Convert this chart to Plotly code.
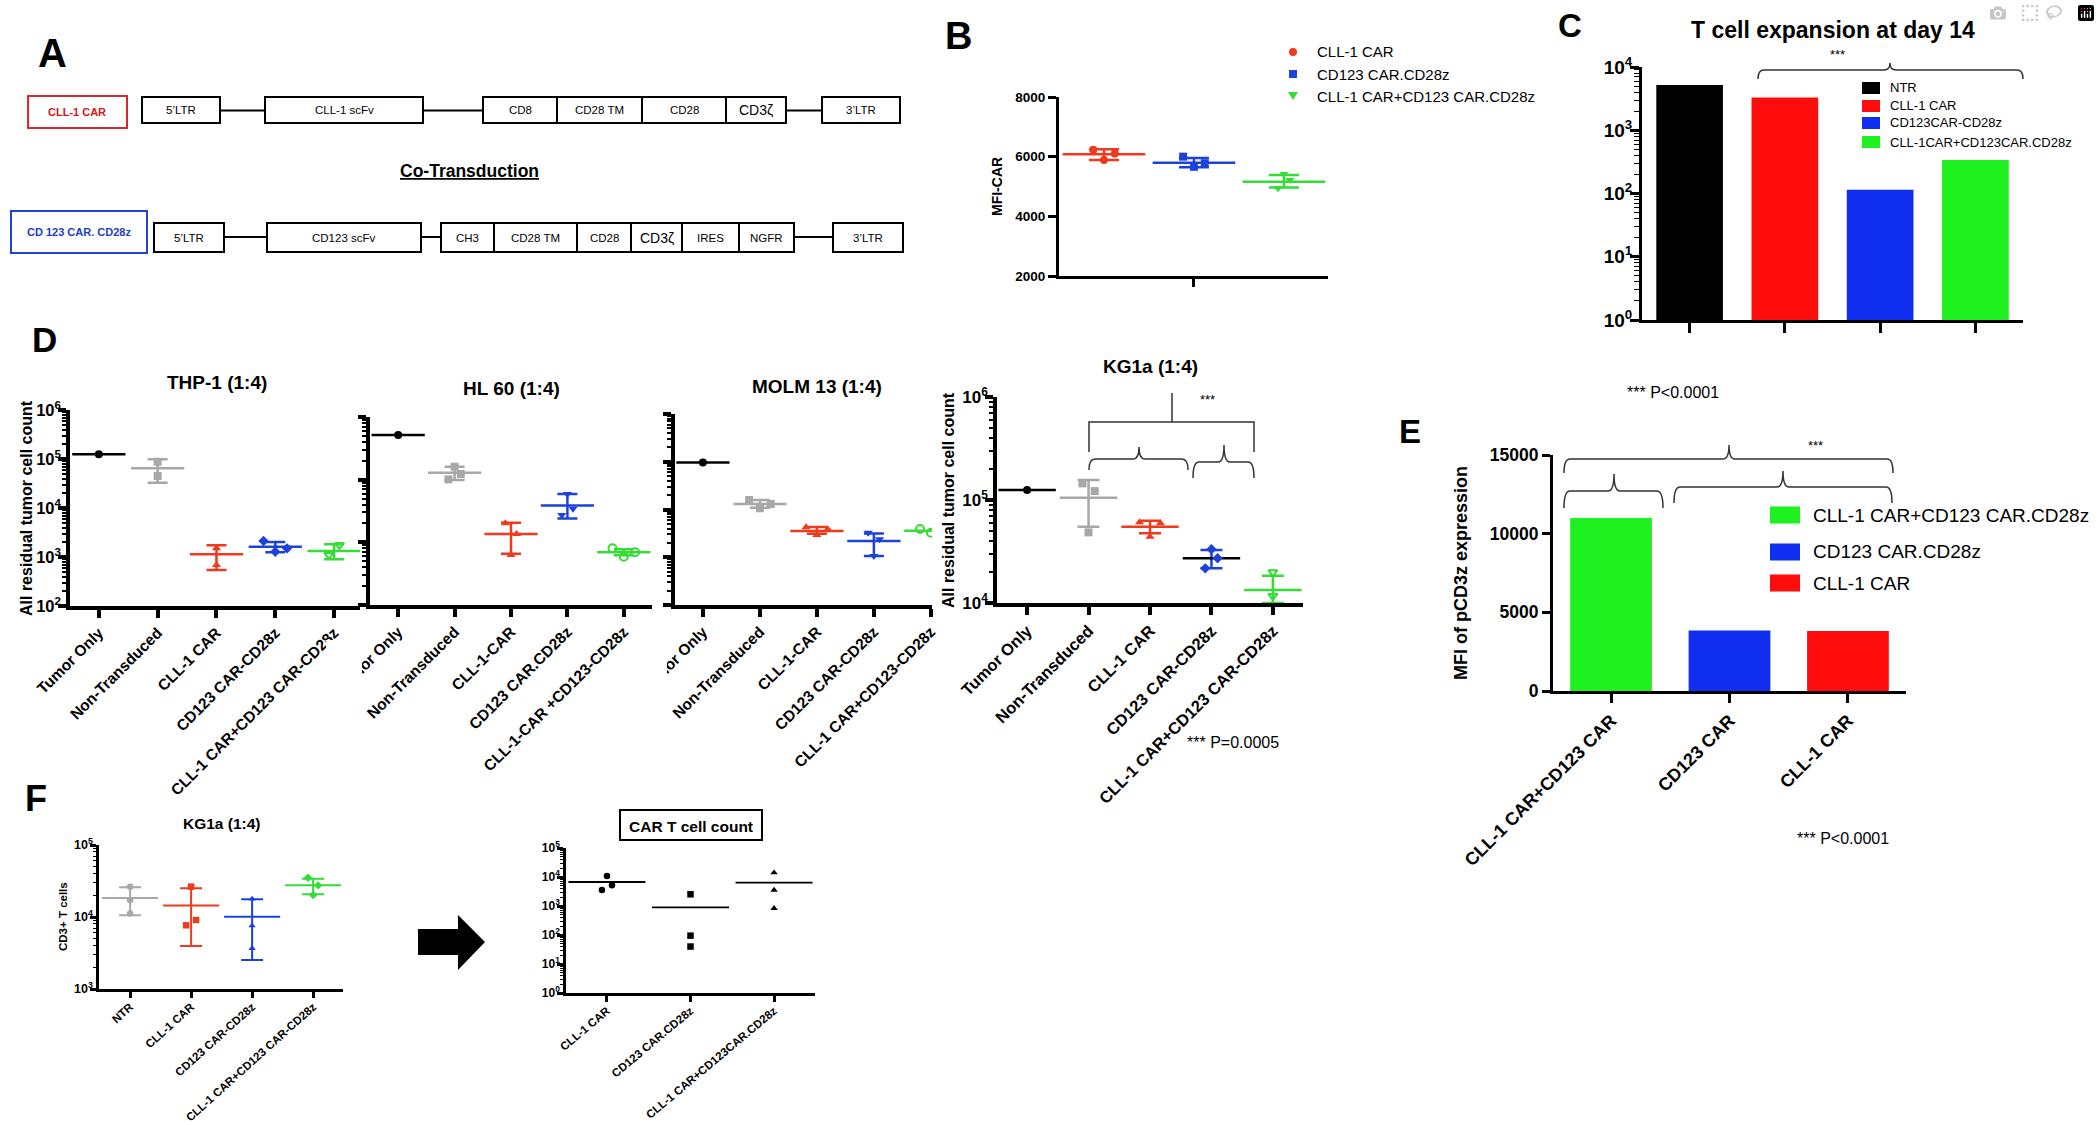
import numpy as np
import plotly.graph_objects as go

W, H = 2100, 1125
FONT = "Liberation Sans, Arial, sans-serif"

RED, BLUE, GREEN, GRAY, BLACK = "#ef3a1d", "#1d42dc", "#36dc36", "#a8a8a8", "#000000"
RED_BAR, BLUE_BAR, GREEN_BAR = "#ff0d0d", "#0f2ef0", "#1ff01f"

# ---------------- data ----------------
# A  construct schematic
a_row1 = ["5’LTR", "CLL-1 scFv", "CD8", "CD28 TM", "CD28", "CD3ζ", "3’LTR"]
a_row2 = ["5’LTR", "CD123 scFv", "CH3", "CD28 TM", "CD28", "CD3ζ", "IRES", "NGFR", "3’LTR"]

# B  MFI-CAR
b_groups = ["CLL-1 CAR", "CD123 CAR.CD28z", "CLL-1 CAR+CD123 CAR.CD28z"]
b_points = [[6230, 5890, 6110], [6000, 5660, 5780], [4940, 5420, 5220]]
b_mean = [6080, 5800, 5160]
b_hi = [6245, 5955, 5385]
b_lo = [5890, 5645, 4970]
b_yticks = [2000, 4000, 6000, 8000]

# C  T cell expansion at day 14
c_groups = ["NTR", "CLL-1 CAR", "CD123CAR-CD28z", "CLL-1CAR+CD123CAR.CD28z"]
c_vals = [5200, 3300, 115, 340]
c_exp = [0, 1, 2, 3, 4]

# D  residual tumor cells
thp1_labels = ["Tumor Only", "Non-Transduced", "CLL-1 CAR", "CD123 CAR-CD28z", "CLL-1 CAR+CD123 CAR-CD28z"]
thp1_points = [[125000], [88000, 45000], [1500, 690], [2120, 1280, 1500], [1100, 1760]]
thp1_mean = [125000, 64500, 1135, 1625, 1325]
thp1_hi = [None, 98600, 1735, 2025, 1815]
thp1_lo = [None, 32800, 545, 1250, 900]
thp1_exp = [2, 3, 4, 5, 6]

hl60_labels = ["Tumor Only", "Non-Transduced", "CLL-1-CAR", "CD123 CAR.CD28z", "CLL-1-CAR +CD123-CD28z"]
hl60_points = [[516000], [101000, 161000, 123000], [20100, 6280, 13600], [27300, 59000, 34400], [8040, 5900, 6930]]
hl60_mean = [516000, 129000, 13600, 38600, 6930]
hl60_hi = [None, 161000, 20600, 59000, 7760]
hl60_lo = [None, 98900, 6600, 24100, 6230]
hl60_exp = [3, 4, 5, 6]

molm_labels = ["Tumor Only", "Non-Transduced", "CLL-1-CAR", "CD123 CAR-CD28z", "CLL-1 CAR+CD123-CD28z"]
molm_points = [[97000], [15800, 10600, 13000], [4240, 2920, 3850], [3270, 1060, 2380], [3890, 3270, None]]
molm_mean = [97000, 13000, 3550, 2190, 3600]
molm_hi = [None, 15800, 4300, 3160, None]
molm_lo = [None, 10900, 3100, 1060, None]
molm_exp = [2, 3, 4, 5, 6]

kg_labels = ["Tumor Only", "Non-Transduced", "CLL-1 CAR", "CD123 CAR-CD28z", "CLL-1 CAR+CD123 CAR-CD28z"]
kg_points = [[125000], [145000, 48500, 122000], [60700, 44000, 59400], [21700, 33200, 27200], [19900, 11700]]
kg_mean = [125000, 105000, 55100, 27200, 13400]
kg_hi = [None, 156000, 63000, 32700, 18400]
kg_lo = [None, 55100, 47500, 21700, 10000]
kg_exp = [4, 5, 6]

# E  pCD3z
e_labels = ["CLL-1 CAR+CD123 CAR", "CD123 CAR", "CLL-1 CAR"]
e_vals = [11000, 3840, 3820]
e_legend = ["CLL-1 CAR+CD123 CAR.CD28z", "CD123 CAR.CD28z", "CLL-1 CAR"]
e_yticks = [0, 5000, 10000, 15000]

# F  CD3+ T cells / CAR T cell count
f_labels = ["NTR", "CLL-1 CAR", "CD123 CAR-CD28z", "CLL-1 CAR+CD123 CAR-CD28z"]
f_points = [[26400, 17200, 11200], [7670, 26400, 9080], [17800, 7570, 3670], [35100, 20200, 27500]]
f_mean = [18400, 14500, 10100, 27500]
f_hi = [25800, 25100, 17700, 34000]
f_lo = [10600, 3950, 2530, 20700]
f_exp = [3, 4, 5]

cart_labels = ["CLL-1 CAR", "CD123 CAR.CD28z", "CLL-1 CAR+CD123CAR.CD28z"]
cart_points = [[3560, 10800, 5170], [2530, 95, 40], [14100, 3560, 830]]
cart_mean = [6730, 900, 6380]
cart_exp = [0, 1, 2, 3, 4, 5]


# ---------------- helpers ----------------
def fx(p):
    return p / W


def fy(p):
    return 1 - p / H


def xdom(a, b):
    return [fx(a), fx(b)]


def ydom(top, bottom):
    return [fy(bottom), fy(top)]


def decades(exps):
    return [10 ** e for e in exps], ["10<sup>%d</sup>" % e for e in exps]


def axis(dom, rng, anchor, vals, text, size, angle=0, log=False, minor=False, lw=3, tlen=8,
         labels=True, standoff=0):
    a = dict(domain=dom, range=rng, anchor=anchor, type="log" if log else "linear",
             showline=True, linecolor="black", linewidth=lw,
             ticks="outside", tickcolor="black", tickwidth=lw, ticklen=tlen,
             tickmode="array", tickvals=vals, ticktext=text, tickangle=angle,
             showticklabels=labels, automargin=False, ticklabelstandoff=standoff,
             tickfont=dict(family=FONT, size=size, color="black", weight="bold"),
             showgrid=False, zeroline=False, fixedrange=True)
    if minor:
        a["minor"] = dict(ticks="outside", ticklen=tlen * 0.55, tickwidth=max(1, lw * 0.45),
                          tickcolor="black", dtick="D1", showgrid=False)
    return a


shapes, annos = [], []


def T(x, y, s, size, bold=False, color="black", angle=0, family=FONT, xa="center", ya="middle"):
    if bold:
        s = "<b>%s</b>" % s
    annos.append(dict(x=fx(x), y=fy(y), xref="paper", yref="paper", text=s, showarrow=False,
                      font=dict(family=family, size=size, color=color), textangle=angle,
                      xanchor=xa, yanchor=ya))


def R(x0, y0, x1, y1, line="black", lw=2, fill="rgba(0,0,0,0)"):
    shapes.append(dict(type="rect", xref="paper", yref="paper", x0=fx(x0), x1=fx(x1),
                       y0=fy(y0), y1=fy(y1), fillcolor=fill, layer="above",
                       line=dict(color=line, width=lw)))


def L(x0, y0, x1, y1, color="black", lw=2):
    shapes.append(dict(type="line", xref="paper", yref="paper", x0=fx(x0), x1=fx(x1),
                       y0=fy(y0), y1=fy(y1), line=dict(color=color, width=lw)))


def PATH(d, color="#333", lw=1.5, fill=None):
    shapes.append(dict(type="path", xref="paper", yref="paper", path=d, layer="above",
                       line=dict(color=color, width=lw), fillcolor=fill))


def pt(x, y):
    return "%.5f,%.5f" % (fx(x), fy(y))


def brace(x0, x1, yl, ye, xp, yt, r=6):
    d = ("M " + pt(x0, ye) + " Q " + pt(x0, yl) + " " + pt(x0 + r, yl) +
         " L " + pt(xp - r, yl) + " Q " + pt(xp, yl) + " " + pt(xp, yt) +
         " Q " + pt(xp, yl) + " " + pt(xp + r, yl) +
         " L " + pt(x1 - r, yl) + " Q " + pt(x1, yl) + " " + pt(x1, ye))
    PATH(d)


fig = go.Figure()


def dots(k, points, means, hi, lo, colors, mcolors, symbols, spreads,
         msize=8, mlen=38, cap=10, lw=2.5, base=0):
    xa = "x" if k == 1 else "x%d" % k
    ya = "y" if k == 1 else "y%d" % k
    for i, pts in enumerate(points):
        if hi is not None and hi[i] is not None:
            err = dict(type="data", symmetric=False, array=[hi[i] - means[i]],
                       arrayminus=[means[i] - lo[i]], color=colors[i], thickness=lw, width=cap)
        else:
            err = dict(visible=False)
        fig.add_trace(go.Scatter(
            x=[base + i], y=[means[i]], mode="markers", error_y=err,
            marker=dict(symbol="line-ew", size=mlen, color=mcolors[i],
                        line=dict(color=mcolors[i], width=lw)),
            xaxis=xa, yaxis=ya, showlegend=False, hoverinfo="skip"))
        n = len(pts)
        offs = np.linspace(-spreads[i], spreads[i], n) if n > 1 else np.zeros(1)
        opn = symbols[i].endswith("open")
        fig.add_trace(go.Scatter(
            x=[base + i + o for o in offs], y=pts, mode="markers",
            marker=dict(symbol=symbols[i], size=msize, color=colors[i],
                        line=dict(color=colors[i], width=2 if opn else 0)),
            xaxis=xa, yaxis=ya, showlegend=False, hoverinfo="skip"))


layout = {}

# ---------------- A ----------------
T(52, 53, "A", 40, bold=True)
row1_pos = [(142, 220), (265, 423), (483, 557), (557, 642), (642, 726), (726, 786), (822, 900)]
for lab, (x0, x1) in zip(a_row1, row1_pos):
    R(x0, 97, x1, 123)
    T((x0 + x1) / 2, 110.5, lab, 14 if "ζ" in lab else 11.5)
for x0, x1 in [(220, 265), (423, 483), (786, 822)]:
    L(x0, 110.5, x1, 110.5)
R(28, 96, 127, 128, line="#d42a2a", lw=2)
T(77, 112, "CLL-1 CAR", 11, bold=True, color="#d01818")

row2_pos = [(154, 224), (267, 421), (441, 494), (494, 577), (577, 631), (631, 682), (682, 739),
            (739, 794), (833, 903)]
for lab, (x0, x1) in zip(a_row2, row2_pos):
    R(x0, 223, x1, 252)
    T((x0 + x1) / 2, 237.5, lab, 14 if "ζ" in lab else 11.5)
for x0, x1 in [(224, 267), (421, 441), (794, 833)]:
    L(x0, 237, x1, 237)
R(11, 211, 147, 253, line="#2444d4", lw=2)
T(79, 232, "CD 123 CAR. CD28z", 11, bold=True, color="#1a3cc8")
T(469, 171, "<u>Co-Transduction</u>", 17.5, bold=True)

# ---------------- B ----------------
T(958, 36, "B", 38, bold=True)
layout["xaxis"] = axis(xdom(1059, 1328), [0.5, 3.49], "y", [2], [""], 14)
layout["yaxis"] = axis(ydom(97, 276), [2000, 8000], "x", b_yticks, [str(v) for v in b_yticks], 13.5)
dots(1, b_points, b_mean, b_hi, b_lo, [RED, BLUE, GREEN], [RED, BLUE, GREEN],
     ["circle", "square", "triangle-down"], [0.12, 0.12, 0.065],
     msize=8, mlen=59, cap=15, lw=2.5, base=1)
T(997, 187, "MFI-CAR", 14, bold=True, angle=-90)
shapes.append(dict(type="circle", xref="paper", yref="paper", x0=fx(1289), x1=fx(1297),
                   y0=fy(56), y1=fy(48), fillcolor=RED, line=dict(width=0)))
R(1289, 70, 1297, 78, line=BLUE, lw=0, fill=BLUE)
PATH("M " + pt(1288, 92) + " L " + pt(1298, 92) + " L " + pt(1293, 100) + " Z",
     color=GREEN, lw=0, fill=GREEN)
for g, y in zip(b_groups, [52, 74, 96]):
    T(1315, y, g, 15, xa="left")

# ---------------- C ----------------
T(1570, 26, "C", 33, bold=True)
T(1833, 30, "T cell expansion at day 14", 23, bold=True)
c_colors = [BLACK, RED_BAR, BLUE_BAR, GREEN_BAR]
fig.add_trace(go.Bar(x=list(range(len(c_vals))), y=c_vals, width=0.7,
                     marker=dict(color=c_colors, line=dict(width=0)),
                     xaxis="x2", yaxis="y2", showlegend=False, hoverinfo="skip"))
layout["xaxis2"] = axis(xdom(1642, 2023), [-0.5, 3.5], "y2", list(range(4)), [""] * 4, 12, tlen=10)
layout["yaxis2"] = axis(ydom(67, 320), [0, 4], "x2", *decades(c_exp), 19, log=True, minor=True,
                        tlen=9, standoff=-6)
brace(1758, 2023, 70, 79, 1890, 63)
T(1837, 54, "***", 13)
for g, col, y in zip(c_groups, c_colors, [88, 106, 123, 142]):
    R(1862, y - 6, 1880, y + 6, line=col, lw=0, fill=col)
    T(1888, y, g, 13, xa="left")
T(1673, 392, "*** P&lt;0.0001", 16)

# ---------------- D ----------------
T(44, 340, "D", 35, bold=True)
grp_col = [BLACK, GRAY, RED, BLUE, GREEN]

layout["xaxis3"] = axis(xdom(70, 360), [-0.49, 4.44], "y3", list(range(5)), thp1_labels, 15.5, angle=-45, lw=3.5)
layout["yaxis3"] = axis(ydom(410, 606), [2, 6], "x3", *decades(thp1_exp), 16.5, log=True, minor=True,
                        lw=3.5, standoff=-6)
dots(3, thp1_points, thp1_mean, thp1_hi, thp1_lo, grp_col, grp_col,
     ["circle", "square", "triangle-up", "diamond", "triangle-down-open"], [0, 0, 0, 0.2, 0.09])
T(217, 382, "THP-1 (1:4)", 19, bold=True)
T(27, 508, "All residual tumor cell count", 16, bold=True, angle=-90)

layout["xaxis4"] = axis(xdom(370, 652), [-0.5, 4.5], "y4", list(range(5)), hl60_labels, 15.5, angle=-45, lw=3.5)
layout["yaxis4"] = axis(ydom(417, 605), [3, 6], "x4", *decades(hl60_exp), 17, log=True, minor=True,
                        lw=3.5, labels=False)
dots(4, hl60_points, hl60_mean, hl60_hi, hl60_lo, grp_col, grp_col,
     ["circle", "square", "triangle-up", "triangle-down", "circle-open"], [0, 0.11, 0.1, 0.1, 0.2])
T(511, 388, "HL 60 (1:4)", 19, bold=True)

layout["xaxis5"] = axis(xdom(675, 932), [-0.49, 4.02], "y5", list(range(5)), molm_labels, 15.5, angle=-45, lw=3.5)
layout["yaxis5"] = axis(ydom(414, 605), [2, 6], "x5", *decades(molm_exp), 17, log=True, minor=True,
                        lw=3.5, labels=False)
dots(5, molm_points, molm_mean, molm_hi, molm_lo, grp_col, grp_col,
     ["circle", "square", "triangle-up", "triangle-down", "circle-open"], [0, 0.19, 0.19, 0.1, 0.19])
T(817, 387, "MOLM 13 (1:4)", 19, bold=True)

layout["xaxis6"] = axis(xdom(997, 1303), [-0.49, 4.49], "y6", list(range(5)), kg_labels, 16.5, angle=-45, lw=3.5)
layout["yaxis6"] = axis(ydom(397, 603), [4, 6], "x6", *decades(kg_exp), 17, log=True, minor=True,
                        lw=3.5, standoff=-6)
dots(6, kg_points, kg_mean, kg_hi, kg_lo, grp_col, [BLACK, GRAY, RED, BLACK, GREEN],
     ["circle", "square", "triangle-up", "diamond", "triangle-down-open"], [0, 0.1, 0.17, 0.1, 0],
     mlen=41, cap=11)
T(1150, 367, "KG1a (1:4)", 19, bold=True)
T(948, 500, "All residual tumor cell count", 16, bold=True, angle=-90)
PATH("M " + pt(1089, 452) + " L " + pt(1089, 422) + " L " + pt(1254, 422) + " L " + pt(1254, 452) +
     " M " + pt(1172, 422) + " L " + pt(1172, 393))
brace(1089, 1188, 459, 470, 1139, 447)
brace(1193, 1254, 462, 478, 1224, 445)
T(1207, 399, "***", 13)
T(1233, 742, "*** P=0.0005", 16)

# panel image edges that cut the neighbouring labels
for xe in (362, 667):
    R(xe - 22, 612, xe, 730, line="white", lw=0, fill="white")
    R(xe - 36, 640, xe, 730, line="white", lw=0, fill="white")

# ---------------- E ----------------
T(1410, 431, "E", 33, bold=True)
e_colors = [GREEN_BAR, BLUE_BAR, RED_BAR]
fig.add_trace(go.Bar(x=list(range(len(e_vals))), y=e_vals, width=0.69,
                     marker=dict(color=e_colors, line=dict(width=0)),
                     xaxis="x7", yaxis="y7", showlegend=False, hoverinfo="skip"))
layout["xaxis7"] = axis(xdom(1553, 1906), [-0.49, 2.49], "y7", list(range(3)), e_labels, 18, angle=-45, tlen=9)
layout["yaxis7"] = axis(ydom(455, 691), [0, 15000], "x7", e_yticks, [str(v) for v in e_yticks], 17.5)
T(1461, 573, "MFI of pCD3z expression", 18, bold=True, angle=-90)
brace(1564, 1893, 459, 473, 1729, 445)
brace(1564, 1663, 491, 508, 1614, 474)
brace(1674, 1892, 487, 503, 1783, 471)
T(1815, 445, "***", 13)
for g, col, y in zip(e_legend, e_colors, [515, 552, 583]):
    R(1770, y - 8.5, 1800, y + 8.5, line=col, lw=0, fill=col)
    T(1811, y, g, 19, xa="left")
T(1843, 838, "*** P&lt;0.0001", 16)

# ---------------- F ----------------
T(36, 798, "F", 36, bold=True)
layout["xaxis8"] = axis(xdom(99, 343), [-0.51, 3.49], "y8", list(range(4)), f_labels, 11.5, angle=-42,
                        lw=2.5, tlen=6, standoff=-2)
layout["yaxis8"] = axis(ydom(845, 989), [3, 5], "x8", *decades(f_exp), 12.5, log=True, minor=True,
                        lw=2.5, tlen=6, standoff=-5)
dots(8, f_points, f_mean, f_hi, f_lo, [GRAY, RED, BLUE, GREEN], [GRAY, RED, BLUE, GREEN],
     ["circle", "square", "triangle-up", "diamond"], [0, 0.082, 0, 0.082],
     msize=6.5, mlen=40, cap=11, lw=2)
T(222, 823, "KG1a (1:4)", 15.5, bold=True)
T(63, 917, "CD3+ T cells", 11.5, bold=True, angle=-90)

PATH("M " + pt(418, 929) + " L " + pt(458, 929) + " L " + pt(458, 915) + " L " + pt(485, 942) +
     " L " + pt(458, 970) + " L " + pt(458, 955) + " L " + pt(418, 955) + " Z",
     color="black", lw=0, fill="black")

layout["xaxis9"] = axis(xdom(566, 815), [-0.49, 2.49], "y9", list(range(3)), cart_labels, 11.5, angle=-40,
                        lw=2.5, tlen=6, standoff=-2)
layout["yaxis9"] = axis(ydom(848, 993), [0, 5], "x9", *decades(cart_exp), 12, log=True, minor=True,
                        lw=2.5, tlen=6, standoff=-5)
dots(9, cart_points, cart_mean, None, None, [BLACK] * 3, [BLACK] * 3,
     ["circle", "square", "triangle-up"], [0.06, 0, 0], msize=6.5, mlen=55, lw=1.8)
R(620, 810, 762, 840, line="black", lw=2)
T(691, 826, "CAR T cell count", 15.5, bold=True)

fig.update_layout(width=W, height=H, autosize=False,
                  margin=dict(l=0, r=0, t=0, b=0, pad=0, autoexpand=False),
                  paper_bgcolor="white", plot_bgcolor="white", showlegend=False,
                  font=dict(family=FONT, color="black"), shapes=shapes, annotations=annos,
                  **layout)

fig.write_html("out.html", post_script="document.body.style.margin='0';document.body.style.overflow='hidden';")
